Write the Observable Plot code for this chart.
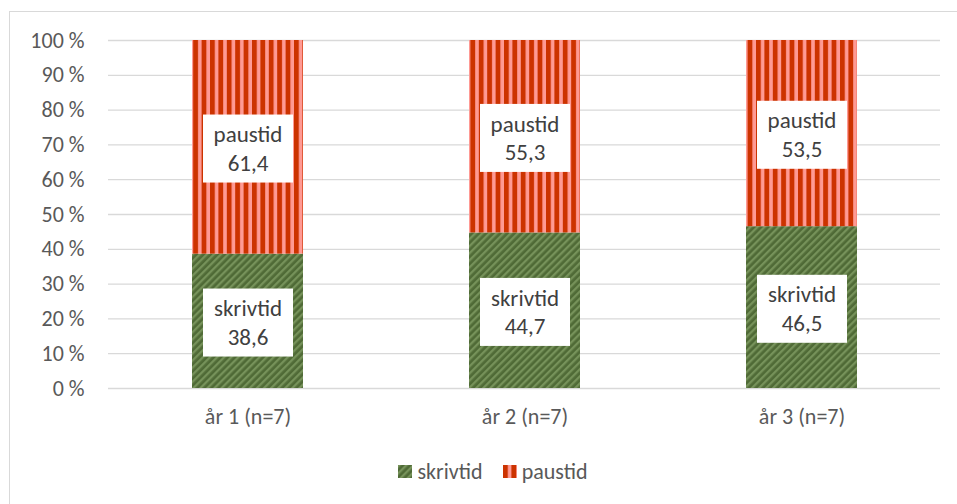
<!DOCTYPE html>
<html>
<head>
<meta charset="utf-8">
<script src="https://cdn.jsdelivr.net/npm/d3@7"></script>
<script src="https://cdn.jsdelivr.net/npm/@observablehq/plot@0.6"></script>
<style>
  html, body { margin: 0; padding: 0; background: #fff; overflow: hidden; }
  body { width: 957px; height: 504px; position: relative; font-family: Carlito, Lato, sans-serif; }
  #frame { position: absolute; left: 9px; top: 11px; width: 968px; height: 600px;
           border: 1px solid #d9d9d9; box-sizing: border-box; }
  #chart { position: absolute; left: 0; top: 0; }
  #legend { position: absolute; left: 9px; width: 968px; top: 458px; display: flex;
            justify-content: center; gap: 20px; font-size: 22px; color: #595959; }
  #legend .item { display: flex; align-items: center; gap: 5px; }
  #legend svg { display: block; }
</style>
</head>
<body>
<div id="frame"></div>
<div id="chart"></div>
<div id="legend"></div>
<script>
// Andel skrivtid och paustid per årskurs (procent)
const years = ["år 1 (n=7)", "år 2 (n=7)", "år 3 (n=7)"];
const series = ["skrivtid", "paustid"];
const skrivtid = [38.6, 44.7, 46.5];
const paustid = [61.4, 55.3, 53.5];
const yTicks = [0, 10, 20, 30, 40, 50, 60, 70, 80, 90, 100];

const patternIds = {skrivtid: "pat-skrivtid", paustid: "pat-paustid"};
const fmt = v => v.toFixed(1).replace(".", ",");

const rows = years.flatMap((year, i) => [
  {year, series: "skrivtid", value: skrivtid[i]},
  {year, series: "paustid", value: paustid[i]}
]);

const chart = Plot.plot({
  width: 957,
  height: 440,
  marginLeft: 108,
  marginRight: 17,
  marginTop: 40,
  marginBottom: 52,
  style: {fontFamily: "Carlito, Lato, sans-serif", color: "#595959", background: "transparent"},
  x: {domain: years, paddingInner: 0.6, paddingOuter: 0.3},
  y: {domain: [0, 100]},
  color: {domain: series, range: series.map(s => `url(#${patternIds[s]})`)},
  marks: [
    Plot.gridY(yTicks, {stroke: "#d9d9d9", strokeOpacity: 1, strokeWidth: 1.3}),
    Plot.axisY(yTicks, {tickFormat: d => `${d} %`, label: null, tickSize: 0, tickPadding: 24, fontSize: 22, fill: "#595959"}),
    Plot.axisX({label: null, tickSize: 0, tickPadding: 20, fontSize: 22, fill: "#595959"}),
    Plot.barY(rows, Plot.stackY({x: "year", y: "value", fill: "series", z: "series", order: series})),
    Plot.text(rows, Plot.stackY({
      x: "year", y: "value", z: "series", order: series,
      text: d => `${d.series}\n${fmt(d.value)}`,
      fill: "#404040", fontSize: 23, lineHeight: 1.25,
      className: "seg-label"
    }))
  ]
});

document.getElementById("chart").append(chart);

// Fill patterns for the two series
const svg = d3.select(chart);
const defs = svg.insert("defs", ":first-child");
const pRed = defs.append("pattern").attr("id", patternIds.paustid)
  .attr("patternUnits", "userSpaceOnUse").attr("width", 8.4).attr("height", 8);
pRed.append("rect").attr("width", 8.4).attr("height", 8).attr("fill", "#ff9a94");
pRed.append("rect").attr("width", 4.8).attr("height", 8).attr("fill", "#cc3300");

const pGreen = defs.append("pattern").attr("id", patternIds.skrivtid)
  .attr("patternUnits", "userSpaceOnUse").attr("width", 5).attr("height", 5)
  .attr("patternTransform", "rotate(45)");
pGreen.append("rect").attr("width", 5).attr("height", 5).attr("fill", "#4f6a36");
pGreen.append("rect").attr("width", 2.3).attr("height", 5).attr("fill", "#76925a");

// White boxes behind the segment labels
svg.selectAll("g.seg-label text").each(function() {
  const t = d3.select(this);
  const b = this.getBBox();
  const w = 90, h = 68;
  const cx = b.x + b.width / 2, cy = b.y + b.height / 2;
  d3.select(this.parentNode).insert("rect", () => this)
    .attr("transform", t.attr("transform"))
    .attr("x", cx - w / 2).attr("y", cy - h / 2)
    .attr("width", w).attr("height", h)
    .attr("fill", "#fff");
});

// Legend
const legend = d3.select("#legend");
series.forEach(s => {
  const item = legend.append("div").attr("class", "item");
  const sw = item.append("svg").attr("width", 14).attr("height", 13);
  sw.append("rect").attr("width", 14).attr("height", 13).attr("fill", `url(#${patternIds[s]})`);
  item.append("span").text(s);
});
</script>
</body>
</html>
